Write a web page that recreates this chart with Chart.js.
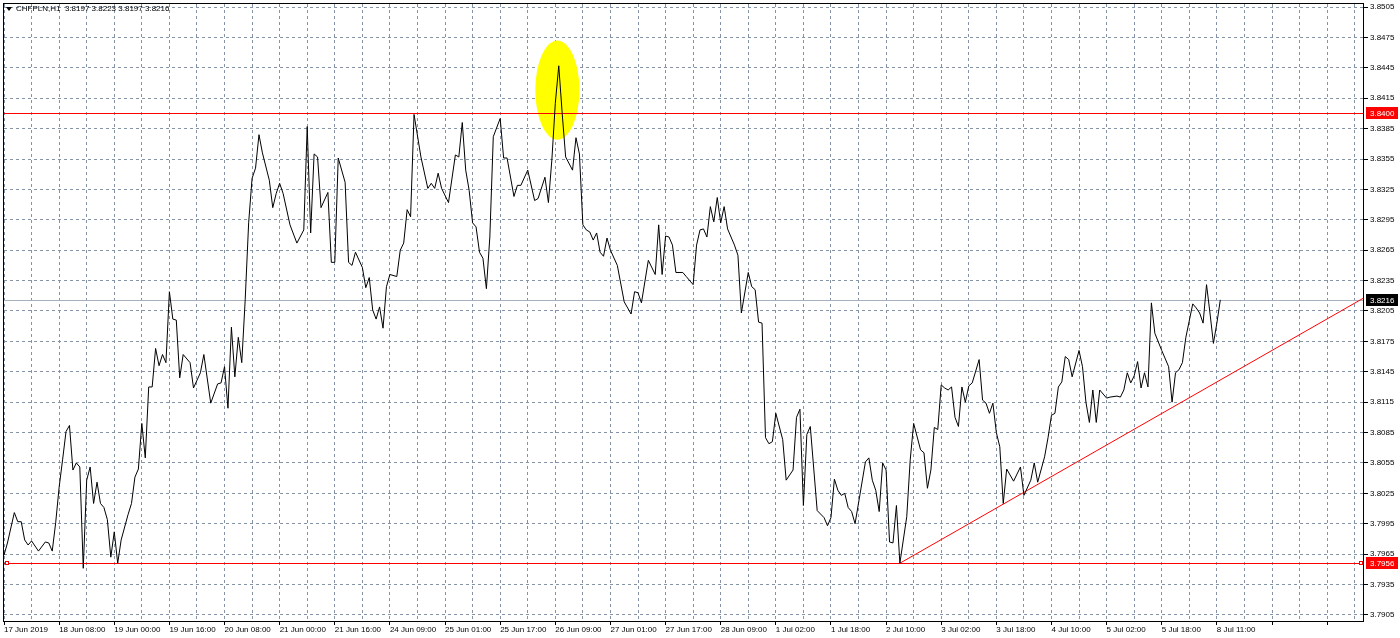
<!DOCTYPE html>
<html>
<head>
<meta charset="utf-8">
<title>CHFPLN,H1</title>
<script src="https://cdn.jsdelivr.net/npm/chart.js@4.4.1/dist/chart.umd.min.js"></script>
<style>
  html, body { margin: 0; padding: 0; background: #fff; }
  #wrap { width: 1400px; height: 638px; }
</style>
</head>
<body>
<div id="wrap"><canvas id="priceChart" width="1400" height="638"></canvas></div>
<script>
// -------------------- DATA --------------------
const symbolTitle = "CHFPLN,H1  3.8197 3.8223 3.8197 3.8216";

// one tick label every 16 H1 bars
const timeLabels = [
  "17 Jun 2019", "18 Jun 08:00", "19 Jun 00:00", "19 Jun 16:00", "20 Jun 08:00",
  "21 Jun 00:00", "21 Jun 16:00", "24 Jun 09:00", "25 Jun 01:00", "25 Jun 17:00",
  "26 Jun 09:00", "27 Jun 01:00", "27 Jun 17:00", "28 Jun 09:00", "1 Jul 02:00",
  "1 Jul 18:00", "2 Jul 10:00", "3 Jul 02:00", "3 Jul 18:00", "4 Jul 10:00",
  "5 Jul 02:00", "5 Jul 18:00", "8 Jul 11:00"
];

const priceTicks = [
  3.7905, 3.7935, 3.7965, 3.7995, 3.8025, 3.8055, 3.8085, 3.8115, 3.8145, 3.8175,
  3.8205, 3.8235, 3.8265, 3.8295, 3.8325, 3.8355, 3.8385, 3.8415, 3.8445, 3.8475, 3.8505
];

// bar number (H1 bars from 17 Jun 00:00) and close price
const bars = [
  0, 1, 3, 4, 5, 6, 7, 8, 10, 12, 13, 14, 15, 16, 17, 18, 19, 20, 21, 22,
  23, 24, 25, 26, 27, 28, 29, 30, 31, 32, 33, 34, 36, 37, 38, 39, 40, 41, 42, 43,
  44, 45, 46, 47, 48, 49, 50, 51, 52, 54, 55, 57, 58, 60, 62, 63, 64, 65, 66, 67,
  68, 69, 70, 71, 72, 73, 74, 75, 77, 78, 79, 80, 81, 83, 85, 87, 88, 89, 90, 91,
  92, 94, 95, 96, 97, 99, 100, 101, 102, 104, 105, 106, 107, 108, 109, 110, 111, 112, 114, 115,
  116, 117, 118, 119, 121, 123, 124, 125, 126, 127, 129, 131, 132, 133, 134, 135, 136, 137, 138, 139,
  140, 141, 142, 144, 145, 146, 148, 149, 150, 152, 154, 155, 157, 158, 159, 160, 161, 162, 163, 165,
  166, 167, 168, 169, 170, 171, 172, 173, 174, 175, 176, 178, 180, 182, 183, 184, 185, 187, 189, 190,
  191, 192, 193, 194, 195, 197, 198, 200, 201, 202, 203, 204, 205, 206, 207, 208, 209, 210, 212, 213,
  214, 216, 217, 218, 219, 220, 221, 222, 223, 224, 226, 227, 229, 230, 231, 232, 233, 234, 236, 238,
  239, 240, 241, 242, 243, 244, 245, 246, 247, 250, 251, 252, 253, 254, 255, 256, 257, 258, 259, 260,
  262, 263, 264, 266, 267, 268, 269, 270, 271, 272, 273, 274, 275, 276, 277, 278, 279, 280, 281, 283,
  284, 285, 286, 287, 288, 289, 290, 291, 293, 295, 296, 298, 299, 300, 302, 303, 304, 305, 306, 307,
  308, 309, 310, 312, 313, 314, 315, 316, 317, 318, 320, 321, 323, 324, 325, 326, 327, 328, 329, 330,
  331, 332, 333, 334, 336, 338, 339, 340, 341, 342, 343, 345, 346, 347, 348, 349, 350, 351, 352, 353
];

const closes = [
  3.7964, 3.7976, 3.8006, 3.7997, 3.7997, 3.7979, 3.7974, 3.7978, 3.7968, 3.7977, 3.7976, 3.7968, 3.7996, 3.8031, 3.8058, 3.8086, 3.8092, 3.8048, 3.8055, 3.8051,
  3.7951, 3.8038, 3.8051, 3.8015, 3.8036, 3.8015, 3.8011, 3.7999, 3.7962, 3.7987, 3.7956, 3.7979, 3.8004, 3.8015, 3.8041, 3.8049, 3.8094, 3.8060, 3.8130, 3.8130,
  3.8168, 3.8151, 3.8162, 3.8154, 3.8224, 3.8197, 3.8196, 3.8139, 3.8162, 3.8154, 3.8129, 3.8144, 3.8162, 3.8114, 3.8133, 3.8134, 3.8150, 3.8109, 3.8189, 3.8140,
  3.8179, 3.8154, 3.8216, 3.8292, 3.8336, 3.8346, 3.8379, 3.8361, 3.8334, 3.8307, 3.8321, 3.8331, 3.8321, 3.8290, 3.8272, 3.8285, 3.8387, 3.8282, 3.8360, 3.8357,
  3.8307, 3.8322, 3.8253, 3.8253, 3.8356, 3.8332, 3.8253, 3.8250, 3.8263, 3.8248, 3.8228, 3.8238, 3.8206, 3.8197, 3.8209, 3.8188, 3.8229, 3.8241, 3.8239, 3.8265,
  3.8272, 3.8305, 3.8298, 3.8399, 3.8357, 3.8326, 3.8331, 3.8326, 3.8341, 3.8326, 3.8312, 3.8359, 3.8357, 3.8391, 3.8344, 3.8324, 3.8292, 3.8288, 3.8263, 3.8257,
  3.8227, 3.8278, 3.8377, 3.8395, 3.8356, 3.8356, 3.8318, 3.8329, 3.8329, 3.8344, 3.8314, 3.8316, 3.8337, 3.8312, 3.8354, 3.8410, 3.8447, 3.8400, 3.8357, 3.8344,
  3.8376, 3.8360, 3.8290, 3.8285, 3.8283, 3.8275, 3.8282, 3.8263, 3.8259, 3.8277, 3.8265, 3.8250, 3.8214, 3.8202, 3.8224, 3.8223, 3.8213, 3.8255, 3.8241, 3.8290,
  3.8241, 3.8279, 3.8278, 3.8270, 3.8243, 3.8243, 3.8239, 3.8231, 3.8270, 3.8285, 3.8286, 3.8278, 3.8308, 3.8293, 3.8317, 3.8292, 3.8308, 3.8286, 3.8270, 3.8260,
  3.8203, 3.8243, 3.8229, 3.8226, 3.8194, 3.8193, 3.8080, 3.8074, 3.8076, 3.8104, 3.8078, 3.8038, 3.8048, 3.8100, 3.8108, 3.8013, 3.8083, 3.8091, 3.8008, 3.8001,
  3.7993, 3.8001, 3.8039, 3.8028, 3.8023, 3.8025, 3.8011, 3.8007, 3.7995, 3.8056, 3.8060, 3.8038, 3.8028, 3.8007, 3.8055, 3.8048, 3.7977, 3.7976, 3.8013, 3.7956,
  3.8002, 3.8058, 3.8094, 3.8068, 3.8065, 3.8030, 3.8048, 3.8090, 3.8088, 3.8132, 3.8129, 3.8127, 3.8130, 3.8100, 3.8091, 3.8130, 3.8115, 3.8131, 3.8134, 3.8157,
  3.8117, 3.8114, 3.8104, 3.8114, 3.8085, 3.8071, 3.8015, 3.8049, 3.8037, 3.8051, 3.8023, 3.8038, 3.8055, 3.8036, 3.8061, 3.8080, 3.8102, 3.8104, 3.8130, 3.8135,
  3.8160, 3.8157, 3.8140, 3.8166, 3.8150, 3.8115, 3.8095, 3.8127, 3.8095, 3.8127, 3.8119, 3.8120, 3.8121, 3.8120, 3.8127, 3.8144, 3.8134, 3.8141, 3.8155, 3.8129,
  3.8144, 3.8130, 3.8213, 3.8183, 3.8166, 3.8150, 3.8115, 3.8144, 3.8147, 3.8154, 3.8179, 3.8212, 3.8208, 3.8203, 3.8193, 3.8231, 3.8203, 3.8173, 3.8193, 3.8216
];

const levelPrices = [3.8400, 3.7956];
const lastPrice = 3.8216;
const trendBars = [260, 394.7];
const trendPrices = [3.7956, 3.8218];
const highlightBar = 160.6;
const highlightPrice = 3.8423;

// -------------------- DRAWING HELPERS --------------------
const GRID = "#8593a6";
const FONT = "Liberation Sans";

function drawTag(c, yScale, right, price, bg, fg) {
  const py = Math.round(yScale.getPixelForValue(price));
  c.fillStyle = bg;
  c.fillRect(right + 2, py - 6, 32, 12);
  c.fillStyle = fg;
  c.font = `8px "${FONT}"`;
  c.textAlign = "left";
  c.textBaseline = "middle";
  c.fillText(price.toFixed(4), right + 6, py + 1);
}

function hLine(c, area, yScale, price, color) {
  c.fillStyle = color;
  c.fillRect(area.left, Math.round(yScale.getPixelForValue(price)), area.right - area.left, 1);
}

const mtOverlay = {
  id: "mtOverlay",
  beforeDatasetsDraw(chart) {
    const { ctx: c, chartArea: area, scales: { x, y } } = chart;
    c.save();
    c.beginPath();
    c.rect(area.left, area.top, area.right - area.left, area.bottom - area.top);
    c.clip();

    // highlighted spike
    const cx = x.getPixelForValue(highlightBar);
    const cy = y.getPixelForValue(highlightPrice);
    const rx = x.getPixelForValue(highlightBar + 6.4) - cx;
    const ry = cy - y.getPixelForValue(highlightPrice + 0.0049);
    c.fillStyle = "#ffff00";
    c.beginPath();
    c.ellipse(cx, cy, rx, ry, 0, 0, Math.PI * 2);
    c.fill();

    // last price line and horizontal levels
    hLine(c, area, y, lastPrice, "#a7b2c0");
    levelPrices.forEach((p) => hLine(c, area, y, p, "#ff0000"));

    // trend line
    c.lineWidth = 1;
    c.strokeStyle = "#ff0000";
    c.beginPath();
    c.moveTo(x.getPixelForValue(trendBars[0]), y.getPixelForValue(trendPrices[0]));
    c.lineTo(x.getPixelForValue(trendBars[1]), y.getPixelForValue(trendPrices[1]));
    c.stroke();

    // anchor squares on the lower level
    const sy = Math.round(y.getPixelForValue(levelPrices[1]));
    c.fillStyle = "#fff";
    [area.left + 1, area.right - 5].forEach((sx) => {
      c.fillRect(sx, sy - 2, 4, 4);
      c.strokeRect(sx + 0.5, sy - 1.5, 3, 3);
    });
    c.restore();
  },
  afterDraw(chart) {
    const { ctx: c, chartArea: area, scales: { y } } = chart;
    c.save();

    // frame
    c.strokeStyle = "#000";
    c.lineWidth = 1;
    c.strokeRect(area.left - 0.5, area.top - 0.5, area.right - area.left, area.bottom - area.top);

    // price tags on the axis
    drawTag(c, y, area.right, levelPrices[0], "#ff0000", "#fff");
    drawTag(c, y, area.right, levelPrices[1], "#ff0000", "#fff");
    drawTag(c, y, area.right, lastPrice, "#000", "#fff");

    // title
    c.fillStyle = "#000";
    c.beginPath();
    c.moveTo(area.left + 2, area.top + 3);
    c.lineTo(area.left + 8, area.top + 3);
    c.lineTo(area.left + 5, area.top + 7);
    c.closePath();
    c.fill();
    c.font = `8px "${FONT}"`;
    c.textAlign = "left";
    c.textBaseline = "middle";
    c.fillText(symbolTitle, area.left + 12, area.top + 5);
    c.restore();
  }
};

// -------------------- CHART --------------------
const ctx = document.getElementById("priceChart");

new Chart(ctx, {
  type: "line",
  data: {
    datasets: [{
      data: bars.map((b, i) => ({ x: b, y: closes[i] })),
      borderColor: "#000",
      borderWidth: 1,
      pointRadius: 0,
      tension: 0,
      fill: false
    }]
  },
  options: {
    responsive: false,
    animation: false,
    devicePixelRatio: 1,
    layout: { padding: { left: 4, top: 4, right: 0, bottom: 0 } },
    plugins: {
      legend: { display: false },
      tooltip: { enabled: false }
    },
    scales: {
      x: {
        type: "linear",
        min: 0,
        max: 394.7,
        afterBuildTicks: (scale) => {
          const ticks = [];
          for (let b = 0; b <= 392; b += 8) ticks.push({ value: b });
          scale.ticks = ticks;
        },
        afterFit: (scale) => {
          scale.height = 16;
          scale.paddingLeft = 0;
          scale.paddingRight = 0;
        },
        grid: {
          color: GRID,
          lineWidth: 1,
          tickLength: 3,
          tickColor: (c) => (c.tick && c.tick.value % 16 === 0 ? "#000" : "rgba(0,0,0,0)")
        },
        border: { display: false, dash: [3, 3] },
        ticks: {
          autoSkip: false,
          maxRotation: 0,
          minRotation: 0,
          align: "start",
          padding: 0,
          color: "#000",
          font: { family: FONT, size: 8 },
          callback: (v) => (v % 16 === 0 && timeLabels[v / 16]) ? timeLabels[v / 16] : ""
        }
      },
      y: {
        type: "linear",
        position: "right",
        min: 3.7898,
        max: 3.8508,
        afterBuildTicks: (scale) => {
          scale.ticks = priceTicks.map((v) => ({ value: v }));
        },
        afterFit: (scale) => {
          scale.width = 36;
          scale.paddingTop = 0;
          scale.paddingBottom = 0;
        },
        grid: { color: GRID, lineWidth: 1, tickLength: 4, tickColor: "#000" },
        border: { display: false, dash: [3, 3] },
        ticks: {
          padding: 2,
          color: "#000",
          font: { family: FONT, size: 8 },
          callback: (v) => Number(v).toFixed(4)
        }
      }
    }
  },
  plugins: [mtOverlay]
});
</script>
</body>
</html>
